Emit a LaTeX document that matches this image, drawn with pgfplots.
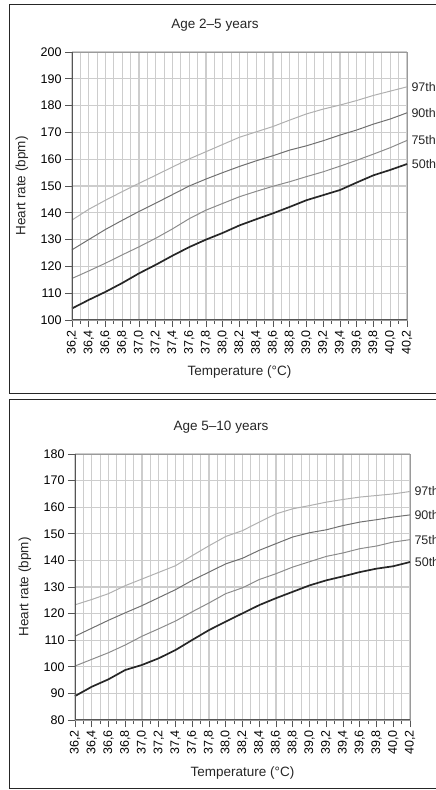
\documentclass[border=0pt]{standalone}
\usepackage{fontspec}
\setmainfont{Liberation Sans}
\usepackage{pgfplots}
\usepackage{pgfplotstable}
\pgfplotsset{compat=1.18}

\definecolor{gridc}{HTML}{CDCDCD}
\definecolor{axdark}{HTML}{555555}
\definecolor{axlight}{HTML}{9A9A9A}
\definecolor{c97}{HTML}{B0B0B0}
\definecolor{c90}{HTML}{707070}
\definecolor{c75}{HTML}{8C8C8C}
\definecolor{c50}{HTML}{262626}

\pgfplotstableread{
T p50 p75 p90 p97
36.2 104.3 115.5 126.2 137.3
36.4 107.5 118.3 130.0 141.3
36.6 110.5 121.2 133.8 144.7
36.8 113.8 124.3 137.2 147.9
37.0 117.4 127.3 140.5 151.0
37.2 120.6 130.5 143.6 154.0
37.4 124.0 134.0 146.8 157.1
37.6 127.2 137.8 150.0 160.1
37.8 130.0 141.0 152.6 162.8
38.0 132.5 143.5 155.0 165.5
38.2 135.3 146.0 157.3 168.2
38.4 137.6 148.0 159.4 170.2
38.6 139.8 149.9 161.3 172.2
38.8 142.2 151.6 163.4 174.6
39.0 144.7 153.5 165.0 176.9
39.2 146.6 155.3 166.9 178.7
39.4 148.5 157.4 169.0 180.2
39.6 151.3 159.6 170.9 181.9
39.8 154.0 161.9 173.1 183.8
40.0 156.0 164.3 175.0 185.4
40.2 158.2 167.0 177.3 187.0
}\agetwo

\pgfplotstableread{
T p50 p75 p90 p97
36.2 89.0 100.3 111.5 123.3
36.4 92.5 102.8 114.5 125.3
36.6 95.3 105.3 117.5 127.5
36.8 98.8 108.2 120.3 130.5
37.0 100.7 111.5 123.0 133.0
37.2 103.2 114.3 126.0 135.5
37.4 106.3 117.2 129.0 138.0
37.6 110.1 120.7 132.5 141.8
37.8 113.8 124.0 135.6 145.5
38.0 117.0 127.5 138.7 149.0
38.2 120.1 129.7 140.8 151.2
38.4 123.2 132.8 143.8 154.4
38.6 125.8 135.0 146.3 157.5
38.8 128.2 137.5 148.8 159.4
39.0 130.6 139.5 150.4 160.6
39.2 132.5 141.5 151.5 161.9
39.4 134.0 142.8 153.1 162.9
39.6 135.6 144.4 154.4 163.8
39.8 136.9 145.4 155.3 164.4
40.0 137.8 146.9 156.3 165.0
40.2 139.4 147.8 157.1 165.9
}\agefive

\tikzset{
  lab/.style={font=\fontsize{12.5}{14}\selectfont, anchor=west, inner sep=0pt, xshift=4pt, text=black!85},
}

\pgfplotsset{
  hrchart/.style={
    scale only axis,
    width=335pt,
    xmin=36.2, xmax=40.2,
    xtick={36.2,36.4,36.6,36.8,37.0,37.2,37.4,37.6,37.8,38.0,38.2,38.4,38.6,38.8,39.0,39.2,39.4,39.6,39.8,40.0,40.2},
    minor xtick={36.3,36.5,36.7,36.9,37.1,37.3,37.5,37.7,37.9,38.1,38.3,38.5,38.7,38.9,39.1,39.3,39.5,39.7,39.9,40.1},
    grid=both,
    major grid style={gridc, line width=1.2pt},
    minor grid style={gridc, line width=1.2pt},
    axis line style={axlight, line width=0.9pt},
    tick align=outside,
    xtick pos=left, ytick pos=left,
    major tick length=7pt,
    minor tick length=4pt,
    tick style={axdark, line width=0.8pt},
    font=\fontsize{12.5}{14}\selectfont,
    /pgf/number format/assume math mode=true,
    xticklabel style={rotate=90, anchor=east, font=\fontsize{12.5}{14}\selectfont,
      /pgf/number format/.cd, fixed, fixed zerofill, precision=1, use comma},
    yticklabel style={font=\fontsize{12.5}{14}\selectfont,
      /pgf/number format/.cd, fixed, precision=0},
    clip=false,
    every axis plot/.append style={no marks},
    after end axis/.code={
      \draw[axdark, line width=1pt] (rel axis cs:0,1) -- (rel axis cs:0,0) -- (rel axis cs:1,0);
    },
  },
}

\begin{document}
\begin{tikzpicture}
% ---------- Panel 1: Age 2-5 years ----------
\draw[line width=1pt, black!85] (9pt,396pt) rectangle (460pt,785pt);
\node[font=\fontsize{13.5}{15}\selectfont, text=black!85] at (215pt,765pt) {Age 2–5 years};
\begin{axis}[hrchart, at={(72pt,470pt)}, anchor=south west,
  height=268pt, ymin=100, ymax=200, ytick={100,110,...,200}]
  \addplot[c97, line width=1pt] table[x=T, y=p97] {\agetwo} node[pos=1, lab] {97th};
  \addplot[c90, line width=1pt] table[x=T, y=p90] {\agetwo} node[pos=1, lab] {90th};
  \addplot[c75, line width=1pt] table[x=T, y=p75] {\agetwo} node[pos=1, lab] {75th};
  \addplot[c50, line width=1.7pt] table[x=T, y=p50] {\agetwo} node[pos=1, lab] {50th};
\end{axis}
\node[rotate=90, font=\fontsize{13.5}{15}\selectfont, text=black!85] at (22pt,604pt) {Heart rate (bpm)};
\node[font=\fontsize{13.5}{15}\selectfont, text=black!85] at (239.5pt,418pt) {Temperature (°C)};

% ---------- Panel 2: Age 5-10 years ----------
\draw[line width=1pt, black!85] (9pt,1pt) rectangle (460pt,390pt);
\node[font=\fontsize{13.5}{15}\selectfont, text=black!85] at (221pt,363pt) {Age 5–10 years};
\begin{axis}[hrchart, at={(75pt,70pt)}, anchor=south west,
  height=266pt, ymin=80, ymax=180, ytick={80,90,...,180}]
  \addplot[c97, line width=1pt] table[x=T, y=p97] {\agefive} node[pos=1, lab] {97th};
  \addplot[c90, line width=1pt] table[x=T, y=p90] {\agefive} node[pos=1, lab] {90th};
  \addplot[c75, line width=1pt] table[x=T, y=p75] {\agefive} node[pos=1, lab] {75th};
  \addplot[c50, line width=1.7pt] table[x=T, y=p50] {\agefive} node[pos=1, lab] {50th};
\end{axis}
\node[rotate=90, font=\fontsize{13.5}{15}\selectfont, text=black!85] at (25pt,203pt) {Heart rate (bpm)};
\node[font=\fontsize{13.5}{15}\selectfont, text=black!85] at (242.5pt,17pt) {Temperature (°C)};

\pgfresetboundingbox
\useasboundingbox (0pt,0pt) rectangle (436pt,790pt);
\end{tikzpicture}
\end{document}
